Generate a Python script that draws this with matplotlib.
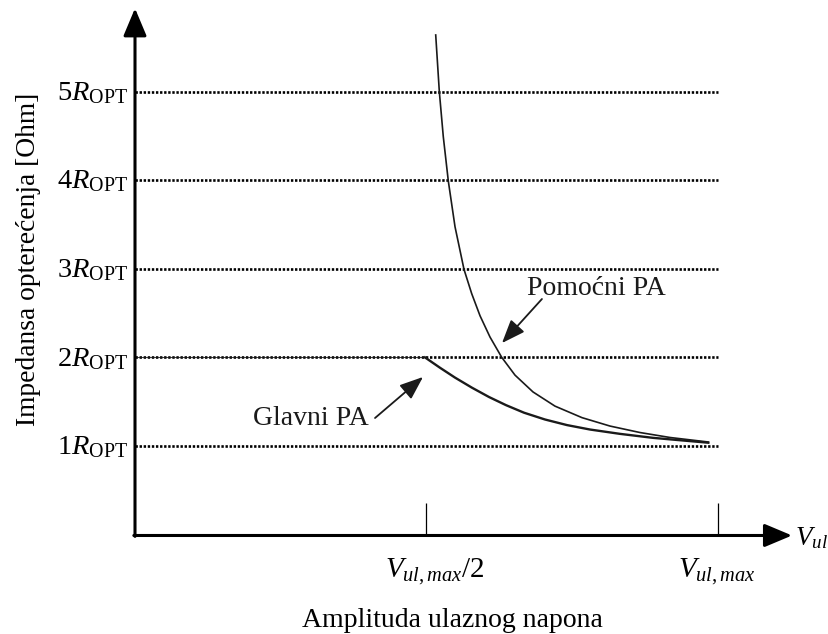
import matplotlib
matplotlib.use("Agg")
import matplotlib.pyplot as plt

plt.rcParams['font.family'] = ['Liberation Serif', 'DejaVu Serif']
plt.rcParams['mathtext.fontset'] = 'custom'
plt.rcParams['mathtext.rm'] = 'Liberation Serif'
plt.rcParams['mathtext.it'] = 'Liberation Serif:italic'
plt.rcParams['mathtext.bf'] = 'Liberation Serif:bold'

# ---- data (normalised input amplitude, impedance in multiples of R_OPT) ----
aux_v = [0.5158, 0.5220, 0.5288, 0.5374, 0.5489, 0.5643, 0.5775, 0.5918, 0.6089,
         0.6290, 0.6518, 0.6827, 0.7204, 0.7667, 0.8148, 0.8662, 0.9177, 0.9834]
aux_r = [5.639, 4.999, 4.491, 3.991, 3.475, 2.994, 2.72, 2.47, 2.23,
         2.001, 1.80, 1.61, 1.45, 1.32, 1.225, 1.152, 1.096, 1.045]
main_v = [0.0, 0.4974, 0.5232, 0.5489, 0.5780, 0.6072, 0.6364, 0.6672, 0.7033,
          0.7410, 0.7804, 0.8319, 0.8885, 0.9834]
main_r = [2.0, 2.0, 1.883, 1.772, 1.658, 1.553, 1.461, 1.376, 1.299,
          1.236, 1.186, 1.137, 1.092, 1.037]

y_levels = [1, 2, 3, 4, 5]
y_labels = [r'$1R_{\mathrm{OPT}}$', r'$2R_{\mathrm{OPT}}$', r'$3R_{\mathrm{OPT}}$',
            r'$4R_{\mathrm{OPT}}$', r'$5R_{\mathrm{OPT}}$']
x_ticks = [0.5, 1.0]
x_labels = [r'$V_{ul,max}/2$', r'$V_{ul,max}$']
x_label_left = [0.4288, 0.9314]

fig = plt.figure(figsize=(8.29, 6.34), dpi=100)
ax = fig.add_axes([0, 0, 1, 1])
ax.set_xlim(-135 / 583, 694 / 583)
ax.set_ylim((534.6 - 634) / 88.6, 534.6 / 88.6)
ax.set_axis_off()

# dotted reference lines
for lv in y_levels:
    ax.plot([0, 1.0], [lv, lv], color='black', lw=1.9, linestyle=(0, (0.9, 0.65)),
            solid_capstyle='butt', dash_capstyle='butt', zorder=2)

# curves
ax.plot(main_v[:2], main_r[:2], color='#1a1a1a', lw=0.6, zorder=3)
ax.plot(main_v[1:], main_r[1:], color='#1a1a1a', lw=1.7, zorder=3)
ax.plot(aux_v, aux_r, color='#1a1a1a', lw=1.2, zorder=3)

# axes with arrows
arrow_kw = dict(arrowstyle='-|>,head_length=1.0,head_width=0.42', color='black', lw=2.2,
                shrinkA=0, shrinkB=0, mutation_scale=17)
ax.annotate('', xy=(0, 5.94), xytext=(0, -0.02), arrowprops=arrow_kw, zorder=4)
ax.annotate('', xy=(1.127, -0.01), xytext=(-0.002, -0.01), arrowprops=arrow_kw, zorder=4)

# x tick marks
ax.vlines(x_ticks, 0, 0.356, color='black', lw=0.9, zorder=3)

# y tick labels
for lv, lab in zip(y_levels, y_labels):
    ax.text(-0.012, lv - 0.094, lab, ha='right', va='baseline', fontsize=20.5)

# x tick labels
for xl, lab in zip(x_label_left, x_labels):
    ax.text(xl, -0.4786, lab, ha='left', va='baseline', fontsize=21)
ax.text(1.1320, -0.117, r'$V_{ul}$', ha='left', va='baseline', fontsize=19.5)

# axis titles
ax.text(0.5437, -1.043, 'Amplituda ulaznog napona', ha='center', va='baseline', fontsize=20)
ax.text(-0.1835, 3.11, 'Impedansa opterećenja [Ohm]', ha='center', va='center',
        rotation=90, fontsize=19.8)

# curve annotations
ann_kw = dict(arrowstyle='-|>,head_length=0.9,head_width=0.35', color='#1a1a1a', lw=1.3,
              shrinkA=0, shrinkB=0, mutation_scale=16)
ax.annotate('', xy=(0.494, 1.779), xytext=(0.4117, 1.316), arrowprops=ann_kw)
ax.text(0.2024, 1.237, 'Glavni PA', ha='left', va='baseline', fontsize=20, color='#1a1a1a')
ax.annotate('', xy=(0.6295, 2.162), xytext=(0.698, 2.659), arrowprops=ann_kw)
ax.text(0.6724, 2.704, 'Pomoćni PA', ha='left', va='baseline', fontsize=20, color='#1a1a1a')

fig.savefig('out.png', dpi=100, facecolor='white')
